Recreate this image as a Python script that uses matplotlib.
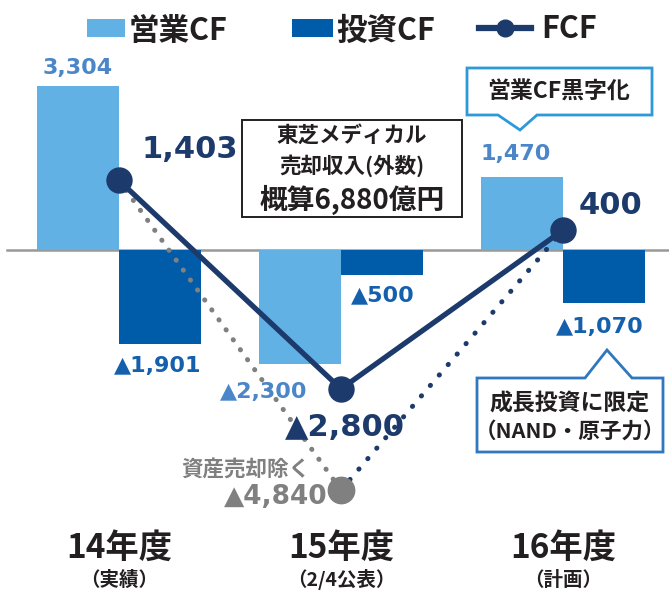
import matplotlib
matplotlib.use("Agg")
import matplotlib.pyplot as plt
from matplotlib.patches import Rectangle, Polygon
from matplotlib.lines import Line2D

# ---- data ----
years = ["14年度", "15年度", "16年度"]
year_notes = ["（実績）", "（2/4公表）", "（計画）"]
op_cf = [3304, -2300, 1470]
inv_cf = [-1901, -500, -1070]
fcf = [1403, -2800, 400]
fcf_ex_asset = -4840
series_names = ["営業CF", "投資CF", "FCF"]

LIGHT = "#62B1E5"
DARK = "#005BA8"
NAVY = "#1C3A6B"
GRAY = "#808080"
LBL_LIGHT = "#4A86C8"
LBL_DARK = "#1560AD"
TXT = "#231F20"
JP = ["Noto Sans CJK JP", "DejaVu Sans"]
NUM = ["DejaVu Sans"]

W, H = 669, 590
fig = plt.figure(figsize=(W / 100, H / 100), dpi=100)
ax = fig.add_axes([0, 0, 1, 1])
ax.axis("off")

X0, SX, Y0, SY = 119, 222, 250, 0.0496
ax.set_xlim(-X0 / SX, (W - X0) / SX)
ax.set_ylim(-(H - Y0) / SY, Y0 / SY)


def P(px, py):
    return ((px - X0) / SX, (Y0 - py) / SY)


xs = list(range(len(years)))
bw = 0.37

# baseline
ax.plot([P(7, 0)[0], P(669, 0)[0]], [0, 0], color="#999999", lw=1.8, zorder=1)

# bars
ax.bar([x - bw / 2 for x in xs], op_cf, width=bw, color=LIGHT, zorder=2)
ax.bar([x + bw / 2 for x in xs], inv_cf, width=bw, color=DARK, zorder=2)

# dotted lines (excluding asset sale)
ax.plot([xs[0], xs[1]], [fcf[0], fcf_ex_asset], color=GRAY, lw=3.6,
        linestyle=(0, (0.05, 2.4)), dash_capstyle="round", zorder=3)
ax.plot([xs[1], xs[2]], [fcf_ex_asset, fcf[2]], color=NAVY, lw=3.6,
        linestyle=(0, (0.05, 2.7)), dash_capstyle="round", zorder=3)
ax.plot([xs[1]], [fcf_ex_asset], "o", color=GRAY, ms=19, zorder=4)

# FCF line
ax.plot(xs, fcf, color=NAVY, lw=3.8, marker="o", ms=18, zorder=5)

# ---- legend ----
def rect_px(x1, y1, x2, y2, **kw):
    a = P(x1, y2)
    b = P(x2, y1)
    ax.add_patch(Rectangle(a, b[0] - a[0], b[1] - a[1], **kw))

rect_px(87, 19, 125, 37, facecolor=LIGHT, edgecolor="none")
ax.text(*P(129, 31), series_names[0], family=JP, weight="bold", fontsize=22,
        color=TXT, ha="left", va="center")
rect_px(292, 19, 333, 37, facecolor=DARK, edgecolor="none")
ax.text(*P(336, 31), series_names[1], family=JP, weight="bold", fontsize=22,
        color=TXT, ha="left", va="center")
a, b = P(479, 28), P(531, 28)
ax.add_line(Line2D([a[0], b[0]], [a[1], b[1]], color=NAVY, lw=4.5))
ax.plot(*P(505, 28), "o", color=NAVY, ms=12)
ax.text(*P(541, 29), series_names[2], family=JP, weight="bold", fontsize=22,
        color=TXT, ha="left", va="center")

# ---- value labels ----
def lbl(px, py, s, color, size, ha="center", fam=NUM):
    ax.text(*P(px, py), s, family=fam, weight="bold", fontsize=size,
            color=color, ha=ha, va="center", zorder=6)

lbl(78, 68, f"{op_cf[0]:,}", LBL_LIGHT, 16)
lbl(190, 150, f"{fcf[0]:,}", NAVY, 22)
lbl(158, 366, f"▲{-inv_cf[0]:,}", LBL_DARK, 16)
lbl(264, 392, f"▲{-op_cf[1]:,}", LBL_LIGHT, 16)
lbl(383, 295, f"▲{-inv_cf[1]:,}", LBL_DARK, 16)
lbl(345, 428, f"▲{-fcf[1]:,}", NAVY, 22)
lbl(310, 469, "資産売却除く", GRAY, 15.5, ha="right", fam=JP)
lbl(328, 497, f"▲{-fcf_ex_asset:,}", GRAY, 19, ha="right")
lbl(516, 154, f"{op_cf[2]:,}", LBL_LIGHT, 16)
lbl(611, 205, f"{fcf[2]:,}", NAVY, 22)
lbl(600, 327, f"▲{-inv_cf[2]:,}", LBL_DARK, 16)

# ---- category labels ----
for x, yr, note in zip(xs, years, year_notes):
    ax.text(x, P(0, 548)[1], yr, family=JP, weight="bold", fontsize=24,
            color=TXT, ha="center", va="center")
    ax.text(x, P(0, 580)[1], note, family=JP, weight="bold", fontsize=14,
            color=TXT, ha="center", va="center")

# ---- note box ----
rect_px(242, 120, 462, 217, facecolor="white", edgecolor=TXT, lw=1.4, zorder=6)
lbl(352, 135, "東芝メディカル", TXT, 15.5, fam=JP)
lbl(352, 166, "売却収入(外数)", TXT, 15.5, fam=JP)
lbl(352, 200, "概算6,880億円", TXT, 20, fam=JP)

# ---- callouts ----
def poly_px(pts, **kw):
    ax.add_patch(Polygon([P(*p) for p in pts], closed=True, **kw))

poly_px([(467, 68), (652, 68), (652, 115), (537, 115), (520, 130),
         (498, 115), (467, 115)], facecolor="white", edgecolor="#2C9AD8",
        lw=2, zorder=6)
lbl(559, 92, "営業CF黒字化", TXT, 16.5, fam=JP)

poly_px([(477, 378), (585, 378), (607, 350), (632, 378), (663, 378),
         (663, 452), (477, 452)], facecolor="white", edgecolor="#2F77BE",
        lw=2, zorder=6)
lbl(570, 404, "成長投資に限定", TXT, 16.5, fam=JP)
lbl(570, 431, "（NAND・原子力）", TXT, 15.5, fam=JP)

fig.savefig("out.png", dpi=100)
